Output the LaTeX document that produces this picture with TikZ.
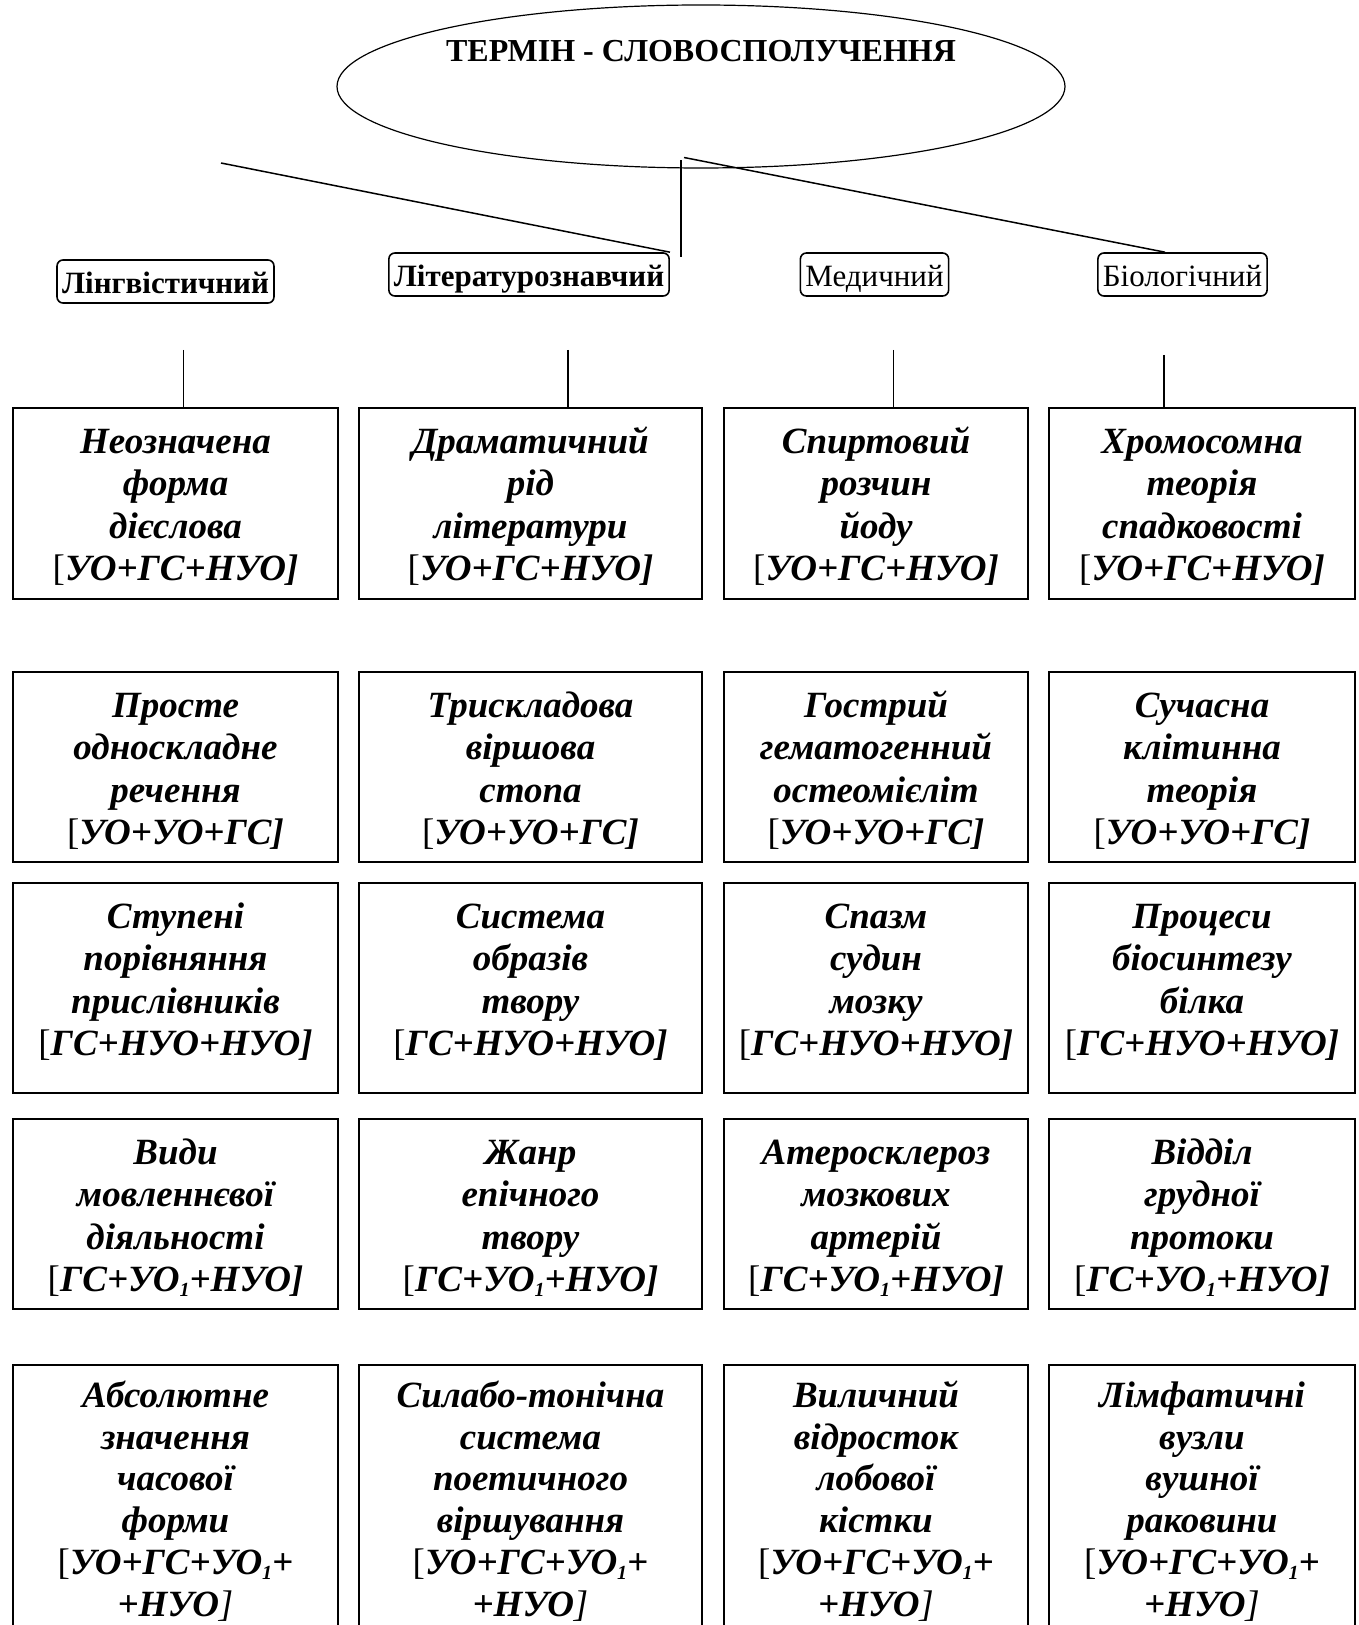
\documentclass[tikz,border=0pt]{standalone}
\usepackage{fontspec}
\setmainfont{Liberation Serif}
\usetikzlibrary{shapes.geometric}
\newcommand\opnb{{\normalfont[}}
\newcommand\clsb{]}
\newcommand\clsthin{{\mdseries]}}
\newcommand\sone{\raisebox{-0.3ex}{\fontsize{10}{12}\selectfont 1}}
\begin{document}
\begin{tikzpicture}[x=0.5pt,y=-0.5pt,
  cell/.style={draw, line width=1pt, rectangle, inner sep=0pt, anchor=north west},
  cw1/.style={minimum width=162.5pt}, cw2/.style={minimum width=171.5pt},
  cw3/.style={minimum width=152pt}, cw4/.style={minimum width=153pt},
  rh1/.style={minimum height=95.5pt}, rh2/.style={minimum height=95pt},
  rh3/.style={minimum height=105pt}, rh4/.style={minimum height=95pt},
  rh5/.style={minimum height=140pt},
  celltext/.style={anchor=north, yshift=-8.1pt, align=center, inner sep=0pt,
    font=\fontsize{18.5}{21.25}\selectfont\bfseries\itshape},
  lasttext/.style={anchor=north, yshift=-6.8pt, align=center, inner sep=0pt,
    font=\fontsize{18.5}{20.9}\selectfont\bfseries\itshape},
  lab/.style={draw, rounded corners=3pt, line width=0.8pt, anchor=base,
    inner xsep=2.5pt, inner ysep=1pt, text height=16pt, text depth=3.5pt,
    font=\fontsize{15.5}{18}\selectfont},
  conn/.style={line width=0.75pt},
  ttl/.style={anchor=base, inner sep=0pt, font=\fontsize{16}{19}\selectfont\bfseries}
]
\useasboundingbox (0,0) rectangle (1358,1625);
\clip (0,0) rectangle (1358,1625);

% top ellipse and title
\node[draw, ellipse, line width=0.6pt, minimum width=364pt, minimum height=81.5pt, inner sep=0pt] (ell) at (701,86.5) {};
\node[ttl] (title) at (701,62) {ТЕРМІН - СЛОВОСПОЛУЧЕННЯ};

% category labels
\node[lab, font=\fontsize{15.5}{18}\selectfont\bfseries] (l1) at (165.5,294) {Лінгвістичний};
\node[lab, font=\fontsize{15.5}{18}\selectfont\bfseries] (l2) at (529,287) {Літературознавчий};
\node[lab] (l3) at (874.5,287) {Медичний};
\node[lab] (l4) at (1182.5,287) {Біологічний};

% boxes
\foreach \c/\x in {1/12,2/358,3/723,4/1048}{
  \foreach \r/\y in {1/407,2/671,3/882,4/1118,5/1364}{
    \node[cell, cw\c, rh\r] (b\r\c) at (\x,\y) {};
  }
}

% connectors from the ellipse
\coordinate (dl) at (221,163);
\draw[conn] (dl) -- (l2.north east);
\coordinate (vt) at (681,160.5);
\coordinate (vb) at (681,257);
\draw[conn] (vt) -- (vb);
\coordinate (dr) at (684,157.5);
\draw[conn] (dr) -- ([xshift=-8.75pt]l4.north);

% connectors to the first row
\coordinate (s1) at (183.5,350);
\coordinate (s2) at (568,350);
\coordinate (s3) at (893.5,350);
\coordinate (s4) at (1164,355);
\draw[conn] (s1) -- (s1 |- b11.north);
\draw[conn] (s2) -- (s2 |- b12.north);
\draw[conn] (s3) -- (s3 |- b13.north);
\draw[conn] (s4) -- (s4 |- b14.north);

% row 1
\node[celltext] (t11) at (b11.north) {\strut Неозначена\\форма\\дієслова\\\opnb УО+ГС+НУО\clsb};
\node[celltext] (t12) at (b12.north) {\strut Драматичний\\рід\\літератури\\\opnb УО+ГС+НУО\clsb};
\node[celltext] (t13) at (b13.north) {\strut Спиртовий\\розчин\\йоду\\\opnb УО+ГС+НУО\clsb};
\node[celltext] (t14) at (b14.north) {\strut Хромосомна\\теорія\\спадковості\\\opnb УО+ГС+НУО\clsb};
% row 2
\node[celltext] (t21) at (b21.north) {\strut Просте\\односкладне\\речення\\\opnb УО+УО+ГС\clsb};
\node[celltext] (t22) at (b22.north) {\strut Трискладова\\віршова\\стопа\\\opnb УО+УО+ГС\clsb};
\node[celltext] (t23) at (b23.north) {\strut Гострий\\гематогенний\\остеомієліт\\\opnb УО+УО+ГС\clsb};
\node[celltext] (t24) at (b24.north) {\strut Сучасна\\клітинна\\теорія\\\opnb УО+УО+ГС\clsb};
% row 3
\node[celltext] (t31) at (b31.north) {\strut Ступені\\порівняння\\прислівників\\\opnb ГС+НУО+НУО\clsb};
\node[celltext] (t32) at (b32.north) {\strut Система\\образів\\твору\\\opnb ГС+НУО+НУО\clsb};
\node[celltext] (t33) at (b33.north) {\strut Спазм\\судин\\мозку\\\opnb ГС+НУО+НУО\clsb};
\node[celltext] (t34) at (b34.north) {\strut Процеси\\біосинтезу\\білка\\\opnb ГС+НУО+НУО\clsb};
% row 4
\node[celltext] (t41) at (b41.north) {\strut Види\\мовленнєвої\\діяльності\\\opnb ГС+УО\sone+НУО\clsb};
\node[celltext] (t42) at (b42.north) {\strut Жанр\\епічного\\твору\\\opnb ГС+УО\sone+НУО\clsb};
\node[celltext] (t43) at (b43.north) {\strut Атеросклероз\\мозкових\\артерій\\\opnb ГС+УО\sone+НУО\clsb};
\node[celltext] (t44) at (b44.north) {\strut Відділ\\грудної\\протоки\\\opnb ГС+УО\sone+НУО\clsb};
% row 5
\node[lasttext] (t51) at (b51.north) {\strut Абсолютне\\значення\\часової\\форми\\\opnb УО+ГС+УО\sone+\\+НУО\clsthin};
\node[lasttext] (t52) at (b52.north) {\strut Силабо-тонічна\\система\\поетичного\\віршування\\\opnb УО+ГС+УО\sone+\\+НУО\clsthin};
\node[lasttext] (t53) at (b53.north) {\strut Виличний\\відросток\\лобової\\кістки\\\opnb УО+ГС+УО\sone+\\+НУО\clsthin};
\node[lasttext] (t54) at (b54.north) {\strut Лімфатичні\\вузли\\вушної\\раковини\\\opnb УО+ГС+УО\sone+\\+НУО\clsthin};
\end{tikzpicture}
\end{document}
